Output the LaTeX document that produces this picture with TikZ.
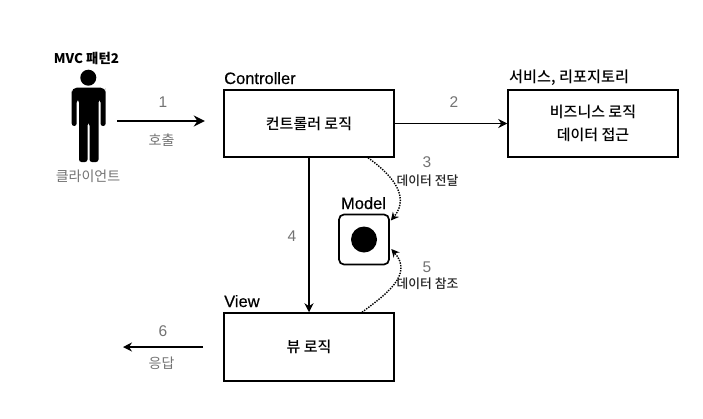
\documentclass[tikz,border=0pt]{standalone}
\usepackage{fontspec}
\setmainfont{Noto Sans CJK KR}
\usetikzlibrary{arrows.meta}
\definecolor{lbl}{gray}{0.45}
\newfontfamily\medium{Noto Sans CJK KR Medium}
\newfontfamily\latinhead[FakeBold=0.4]{Liberation Sans}
\newfontfamily\latinnum{Liberation Sans}
\tikzset{
  box/.style={draw=black,line width=1.5pt,minimum width=170pt,minimum height=67pt,inner sep=0pt,font=\fontsize{15}{23}\selectfont\medium,align=center},
  head/.style={font=\fontsize{16.5}{18}\selectfont\latinhead,anchor=base west,inner sep=0pt},
  num/.style={text=lbl,font=\fontsize{15.5}{17}\selectfont\latinnum,inner sep=0pt},
  note/.style={text=lbl,font=\fontsize{14}{16}\selectfont,inner sep=0pt},
  small/.style={text=black!85,font=\fontsize{12.8}{15}\selectfont\medium,inner sep=0pt},
  flow/.style={draw=black,line width=1.9pt,-{Stealth[length=9pt,width=9pt]}},
  thick flow/.style={draw=black,line width=2.5pt,-{Stealth[length=11pt,width=11pt]}},
  dots/.style={draw=black,line width=1.4pt,dash pattern=on 1.4pt off 1.2pt,-{Stealth[length=8pt,width=8pt]}}
}
\begin{document}
\begin{tikzpicture}[x=1pt,y=-1pt]
\useasboundingbox (0,0) rectangle (703,418);
\fill[white] (0,0) rectangle (703,418);
% person
\fill[black] (88.3,77.7) circle (8);
\fill[black,rounded corners=2.5pt] (71.7,126) -- (71.7,93) [rounded corners=5pt] -- (71.7,87.7) -- (105.7,87.7) -- (105.7,93) [rounded corners=2.5pt] -- (105.7,126) -- (100.5,126) -- (100.5,100) -- (98.5,100) -- (98.5,162) -- (89.5,162) -- (89.5,123) -- (87.5,123) -- (87.5,162) -- (79,162) -- (79,100) -- (76.7,100) -- (76.7,126) -- cycle;
\node[font=\fontsize{13.4}{15}\selectfont\bfseries,inner sep=0pt] (title) at (86.5,58) {MVC 패턴2};
\node[note] (client) at (88,176) {클라이언트};
\coordinate (callstart) at (117,121);
\node[inner sep=0pt,minimum size=0pt] (callend) at (205,121) {};
\node[num] (n1) at (163,102) {1};
\node[note] (call) at (161.5,140) {호출};
\draw[thick flow] (callstart) -- (callend);
% boxes
\node[box] (ctrl) at (309,123.5) {컨트롤러 로직};
\node[box] (svc) at (593,123.5) {비즈니스 로직\\데이터 접근};
\node[box,minimum height=68pt] (view) at (309,347) {뷰 로직};
\node[head] (lc) at (224,84) {Controller};
\node[head,font=\fontsize{15.2}{17}\selectfont\medium] (ls) at (509,82) {서비스, 리포지토리};
\node[head] (lv) at (224,307) {View};
\node[head,anchor=base] (lm) at (363.5,209) {Model};
\node[draw=black,line width=1.7pt,rounded corners=5pt,minimum size=50pt,inner sep=0pt] (model) at (364,239.5) {};
\node[circle,fill=black,minimum size=26pt,inner sep=0pt] (dot) at (364,239.5) {};
% connectors
\draw[flow] (ctrl.east) -- (svc.west);
\draw[flow] (ctrl.south) -- (view.north);
\draw[dots] ([xshift=59pt]ctrl.south) .. controls (388,172) and (412,195) .. ([shift={(1pt,19pt)}]model.east);
\draw[dots] ([xshift=53pt]view.north) .. controls (385,295) and (414,275) .. ([shift={(1.5pt,-9.5pt)}]model.east);
\coordinate (respstart) at (203,347);
\coordinate (respend) at (123,347);
\draw[flow] (respstart) -- (respend);
\node[num] (n2) at (454,102) {2};
\node[num] (n3) at (427,162) {3};
\node[small] (t3) at (427.5,181) {데이터 전달};
\node[num] (n4) at (292,236) {4};
\node[num] (n5) at (427,267) {5};
\node[small] (t5) at (427.5,284) {데이터 참조};
\node[num] (n6) at (163,331) {6};
\node[note] (resp) at (161.5,363) {응답};
\end{tikzpicture}
\end{document}
